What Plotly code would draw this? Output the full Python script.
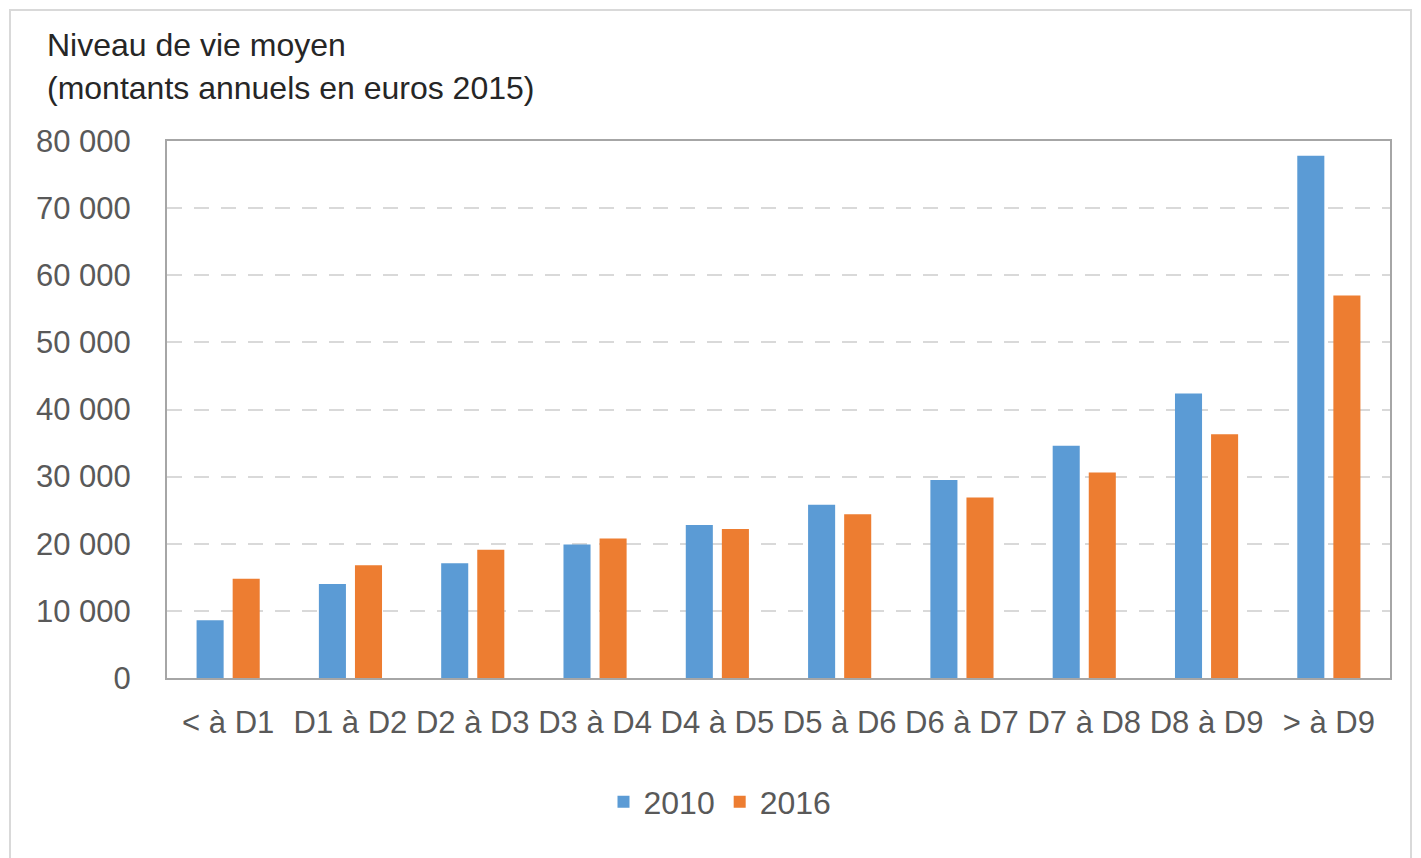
import plotly.graph_objects as go

categories = ["< à D1", "D1 à D2", "D2 à D3", "D3 à D4", "D4 à D5",
              "D5 à D6", "D6 à D7", "D7 à D8", "D8 à D9", "> à D9"]
values_2010 = [8600, 14000, 17100, 19900, 22800, 25800, 29500, 34600, 42400, 77800]
values_2016 = [14800, 16800, 19100, 20800, 22200, 24400, 26900, 30600, 36300, 57000]
tick_vals = [0, 10000, 20000, 30000, 40000, 50000, 60000, 70000, 80000]
tick_text = ["0", "10 000", "20 000", "30 000", "40 000", "50 000", "60 000", "70 000", "80 000"]

OFF = 8  # page body margin
W, H = 1421, 858
# target plot area in page pixels: x 167..1390, y 141..678
L = 167 - OFF
T = 141 - OFF
R = W - (1390 - OFF)
B = H - (678 - OFF)
pw, ph = W - L - R, H - T - B

def px_x(x):
    return (x - OFF - L) / pw

def px_y(y):
    return (H - B - (y - OFF)) / ph

FONT = "Liberation Sans, Arial, sans-serif"

fig = go.Figure()
fig.add_trace(go.Bar(x=categories, y=values_2010, name="2010",
                     marker=dict(color="#5B9BD5", line=dict(width=0))))
fig.add_trace(go.Bar(x=categories, y=values_2016, name="2016",
                     marker=dict(color="#ED7D31", line=dict(width=0))))

fig.update_layout(
    width=W, height=H,
    margin=dict(l=L, r=R, t=T, b=B, autoexpand=False),
    paper_bgcolor="white", plot_bgcolor="white",
    barmode="group", bargap=0.41, bargroupgap=0.25,
    font=dict(family=FONT, size=30, color="#595959"),
    showlegend=True,
    legend=dict(orientation="h", x=px_x(720), xanchor="center",
                y=px_y(802), yanchor="middle",
                font=dict(size=32, color="#595959"),
                itemwidth=30, traceorder="normal"),
    xaxis=dict(showline=True, mirror=True, linecolor="#A6A6A6", linewidth=2,
               ticks="", showgrid=False, automargin=False,
               tickfont=dict(size=31, color="#595959"),
               ticklabelstandoff=16),
    yaxis=dict(range=[0, 80000], tickvals=tick_vals, ticktext=tick_text,
               showline=True, mirror=True, linecolor="#A6A6A6", linewidth=2,
               ticks="", showgrid=True, gridcolor="#D9D9D9", gridwidth=2,
               griddash="15px,12px", zeroline=False, automargin=False,
               tickfont=dict(size=31, color="#595959"),
               ticklabelstandoff=28),
    shapes=[dict(type="rect", xref="paper", yref="paper",
                 x0=px_x(10), x1=px_x(1411), y0=px_y(10), y1=px_y(870),
                 line=dict(color="#D9D9D9", width=2), layer="below")],
    annotations=[
        dict(text="Niveau de vie moyen", xref="paper", yref="paper",
             x=px_x(45), y=px_y(45), xanchor="left", yanchor="middle",
             showarrow=False, font=dict(size=32, color="#262626", family=FONT)),
        dict(text="(montants annuels en euros 2015)", xref="paper", yref="paper",
             x=px_x(45), y=px_y(88), xanchor="left", yanchor="middle",
             showarrow=False, font=dict(size=32, color="#262626", family=FONT)),
    ],
)

fig.write_html("out.html")
